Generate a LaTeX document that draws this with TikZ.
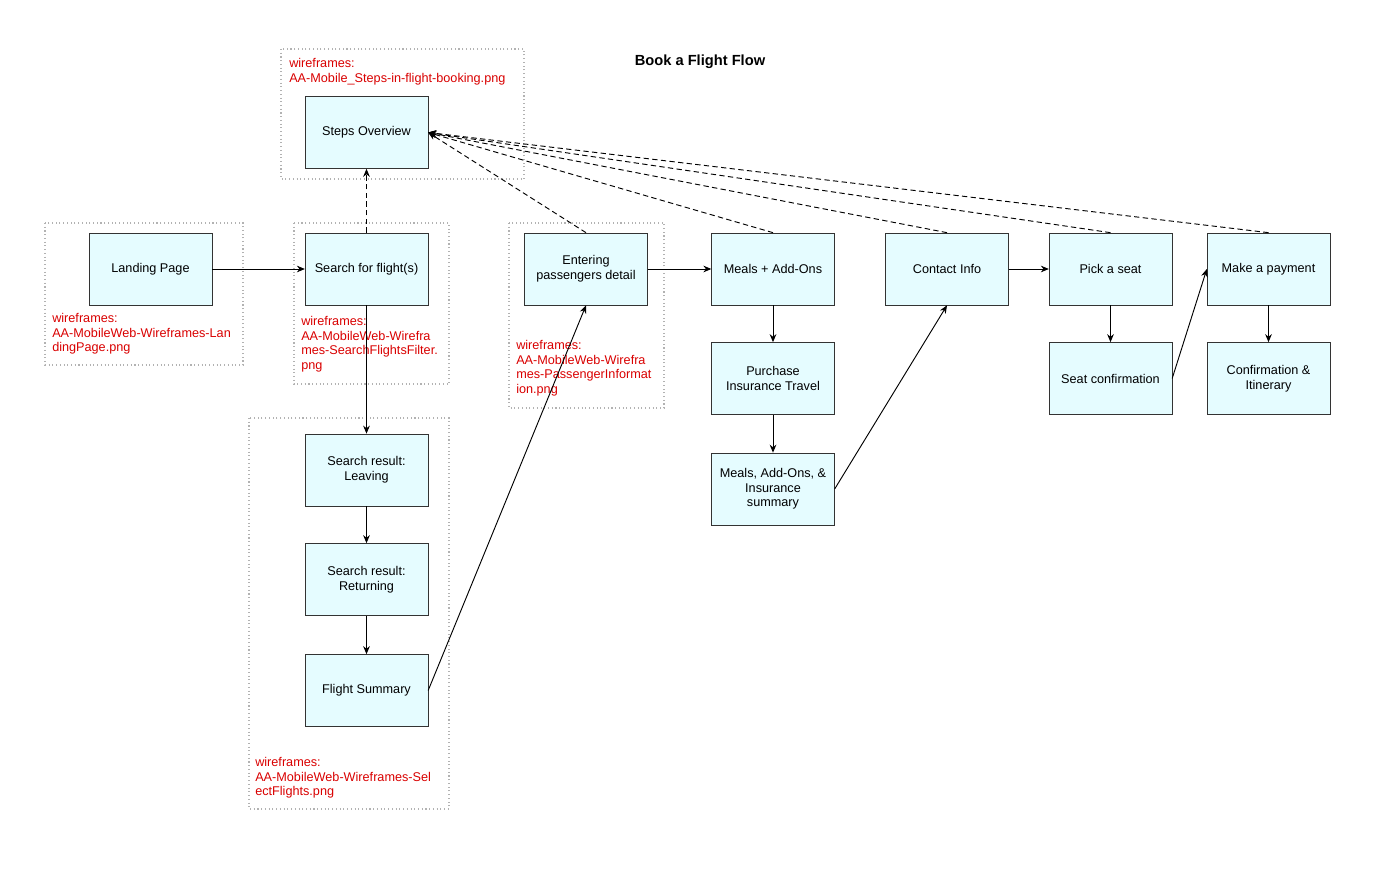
\documentclass[tikz,border=0pt]{standalone}
\usepackage{fontspec}
\setmainfont{Liberation Sans}
\usetikzlibrary{arrows.meta}
\begin{document}
\begin{tikzpicture}[x=0.75pt,y=-0.75pt,
 box/.style={draw=black!80,fill=blue!12!cyan!10,line width=0.5pt,minimum width=92pt,minimum height=54pt,align=center,font=\fontsize{9.5}{11}\selectfont,inner sep=1pt},
 grp/.style={draw=gray!60,dotted,line width=0.8pt},
 wf/.style={text=red!85!black,align=left,anchor=north west,font=\fontsize{9.5}{11}\selectfont,inner sep=0pt},
 arr/.style={-{Stealth[length=6pt,width=5pt]},line width=0.7pt},
 darr/.style={arr,dashed,dash pattern=on 4pt off 2.5pt}]
\useasboundingbox (0,0) rectangle (1400,884);
\draw[grp] (281,49) rectangle (524,179);
\draw[grp] (45,223) rectangle (243,365);
\draw[grp] (294,223) rectangle (449,384);
\draw[grp] (509,223) rectangle (664,408);
\draw[grp] (249,418) rectangle (449,809);
\node[font=\bfseries\fontsize{11}{13}\selectfont] (title) at (700,62) {Book a Flight Flow};
\node[box] (steps) at (366.5,132.5) {Steps Overview};
\node[box] (land) at (150.5,269) {Landing Page};
\node[box] (search) at (366.5,269) {Search for flight(s)};
\node[box] (enter) at (586,269) {Entering\\passengers detail};
\node[box] (meals) at (773,269) {Meals + Add-Ons};
\node[box] (contact) at (947,269) {Contact Info};
\node[box] (pick) at (1110.5,269) {Pick a seat};
\node[box] (pay) at (1268.5,269) {Make a payment};
\node[box] (ins) at (773,378.5) {Purchase\\Insurance Travel};
\node[box] (summ) at (773,489) {Meals, Add-Ons, \&\\Insurance\\summary};
\node[box] (seatc) at (1110.5,378.5) {Seat confirmation};
\node[box] (conf) at (1268.5,378.5) {Confirmation \&\\Itinerary};
\node[box] (leave) at (366.5,470) {Search result:\\Leaving};
\node[box] (ret) at (366.5,579.5) {Search result:\\Returning};
\node[box] (fsum) at (366.5,690.5) {Flight Summary};
\node[wf] (w1) at (289,58) {wireframes:\\AA-Mobile\_Steps-in-flight-booking.png};
\node[wf] (w2) at (52,313) {wireframes:\\AA-MobileWeb-Wireframes-Lan\\dingPage.png};
\node[wf] (w3) at (301,316) {wireframes:\\AA-MobileWeb-Wirefra\\mes-SearchFlightsFilter.\\png};
\node[wf] (w4) at (516,340) {wireframes:\\AA-MobileWeb-Wirefra\\mes-PassengerInformat\\ion.png};
\node[wf] (w5) at (255,757) {wireframes:\\AA-MobileWeb-Wireframes-Sel\\ectFlights.png};
\draw[arr] (land) -- (search);
\draw[arr] (search) -- (leave);
\draw[arr] (leave) -- (ret);
\draw[arr] (ret) -- (fsum);
\draw[arr] (fsum.east) -- (enter.south);
\draw[arr] (enter) -- (meals);
\draw[arr] (meals) -- (ins);
\draw[arr] (ins) -- (summ);
\draw[arr] (summ.east) -- (contact.south);
\draw[arr] (contact) -- (pick);
\draw[arr] (pick) -- (seatc);
\draw[arr] (seatc.east) -- (pay.west);
\draw[arr] (pay) -- (conf);
\draw[darr] (search) -- (steps);
\draw[darr] (enter.north) -- (steps.east);
\draw[darr] (meals.north) -- (steps.east);
\draw[darr] (contact.north) -- (steps.east);
\draw[darr] (pick.north) -- (steps.east);
\draw[darr] (pay.north) -- (steps.east);
\end{tikzpicture}
\end{document}
